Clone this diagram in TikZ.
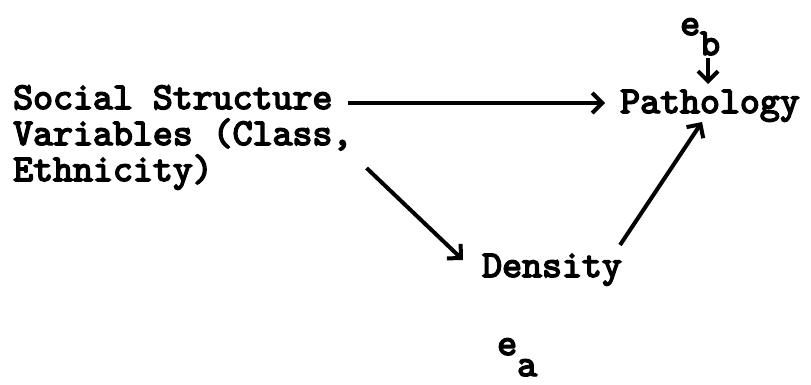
\documentclass[tikz,border=0pt]{standalone}
\usepackage{fontspec}
\newfontfamily\tw{lmmono10-regular.otf}[FakeBold=4]
\usetikzlibrary{arrows.meta}
\begin{document}
\begin{tikzpicture}[x=1pt,y=-1pt,
  lbl/.style={inner sep=0pt,font=\fontsize{38}{38}\tw},
  arr/.style={line width=4pt,-{Straight Barb[length=10pt,width=20pt,line width=4pt]}}]
\useasboundingbox (0,0) rectangle (811,384);
\node[lbl,anchor=base west] (s1) at (13,109) {Social Structure};
\node[lbl,anchor=base west] (s2) at (13,145) {Variables (Class,};
\node[lbl,anchor=base west] (s3) at (13,181) {Ethnicity)};
\node[lbl,anchor=base west] (path) at (620,113) {Pathology};
\node[lbl,anchor=base west] (dens) at (482,277) {Density};
\node[lbl,anchor=base west] (eb) at (680,35) {e\raisebox{-20pt}{b}};
\node[lbl,anchor=base west] (ea) at (497,355) {e\raisebox{-21pt}{a}};
\draw[arr] ([xshift=15pt,yshift=6pt]s1.base east) -- ([xshift=-15pt,yshift=10pt]path.base west);
\draw[arr] ([xshift=14pt,yshift=-23pt]s2.base east) -- ([xshift=-19pt,yshift=17pt]dens.base west);
\draw[arr] ([xshift=-2pt,yshift=32pt]dens.base east) -- ([xshift=82pt,yshift=-9pt]path.base west);
\draw[arr] ([xshift=28pt,yshift=-23pt]eb.base west) -- ([xshift=88pt,yshift=29pt]path.base west);
\end{tikzpicture}
\end{document}
